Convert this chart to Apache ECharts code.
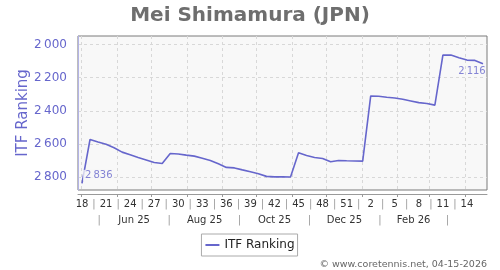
<!DOCTYPE html>
<html><head><meta charset="utf-8">
<script src="https://cdn.jsdelivr.net/npm/echarts@6/dist/echarts.min.js"></script>
<style>html,body{margin:0;padding:0;background:#fff}#c{width:500px;height:270px}</style>
</head><body><div id="c"></div>
<script>
// ---- data ----
const titleText = 'Mei Shimamura (JPN)';
const seriesName = 'ITF Ranking';
const creditText = '\u00a9 www.coretennis.net, 04-15-2026';
const weekNumbers = [18,19,20,21,22,23,24,25,26,27,28,29,30,31,32,33,34,35,36,37,38,39,40,41,42,43,44,45,46,47,48,49,50,51,52,1,2,3,4,5,6,7,8,9,10,11,12,13,14,15,16];
const ranks = [2836,2572,2587,2600,2622,2648,2664,2680,2695,2710,2716,2656,2659,2666,2672,2685,2698,2718,2740,2743,2755,2766,2778,2794,2797,2797,2798,2652,2668,2680,2686,2706,2698,2700,2701,2702,2310,2312,2318,2322,2330,2340,2350,2355,2365,2064,2064,2080,2094,2096,2116];
const weekTickLabels = ['18','21','24','27','30','33','36','39','42','45','48','51','2','5','8','11','14'];
const monthLabels = ['Jun 25','Aug 25','Oct 25','Dec 25','Feb 26'];
const yTickValues = [2000,2200,2400,2600,2800];

// ---- layout helpers ----
const FONT = '"DejaVu Sans", sans-serif';
const DAY = 86400000;
const origin = Date.UTC(2025, 3, 28); // Monday of week 18
const toWeeks = t => (t - origin) / DAY / 7;
const nWeeks = weekNumbers.length;
const fmt = v => String(v).replace(/\B(?=(\d{3})+(?!\d))/g, '\u2009');
const key = v => Number(v).toFixed(3);

// week row labels + separators
const weekLabelMap = {};
const weekLabelPos = [];
let prevIdx = -1;
weekTickLabels.forEach(lbl => {
  let idx = weekNumbers.findIndex((w, i) => i > prevIdx && String(w) === lbl);
  const pos = idx + 0.5;
  if (prevIdx >= 0) {
    const sp = (prevIdx + 0.5 + pos) / 2;
    weekLabelMap[key(sp)] = '|';
    weekLabelPos.push(sp);
  }
  weekLabelMap[key(pos)] = lbl;
  weekLabelPos.push(pos);
  prevIdx = idx;
});

// month boundaries, month row labels + separators
const monthStarts = [];
const monthMids = [];
for (let k = 0; k < 12; k++) {
  const s = Date.UTC(2025, 4 + k, 1), e = Date.UTC(2025, 5 + k, 1);
  monthStarts.push(toWeeks(s));
  monthMids.push(toWeeks((s + e) / 2));
}
const monthLabelMap = {};
const monthLabelPos = [];
for (let k = 0; k <= monthLabels.length * 2; k++) {
  const p = monthMids[k];
  monthLabelMap[key(p)] = (k % 2 === 1) ? monthLabels[(k - 1) / 2] : '|';
  monthLabelPos.push(p);
}

const points = ranks.map((r, i) => [i + 0.5, r]);
const first = points[0], last = points[points.length - 1];

const chart = echarts.init(document.getElementById('c'), null, {renderer: 'canvas'});
chart.setOption({
  backgroundColor: '#ffffff',
  animation: false,
  textStyle: {fontFamily: FONT},
  title: {
    text: titleText, left: 'center', top: 1,
    textStyle: {fontFamily: FONT, fontSize: 20, fontWeight: 'bold', color: '#6e6e6e'}
  },
  grid: {
    left: 78, top: 36, width: 409, height: 154, show: true,
    backgroundColor: '#f8f8f8', borderColor: '#7a7a7a', borderWidth: 1
  },
  legend: {
    data: [{name: seriesName, icon: 'rect'}], left: 'center', top: 234,
    borderColor: '#aaaaaa', borderWidth: 1, padding: [4, 3, 4, 4],
    itemWidth: 14, itemHeight: 2,
    textStyle: {fontFamily: FONT, fontSize: 12, color: '#222', lineHeight: 14}
  },
  xAxis: [
    {
      type: 'value', min: 0, max: nWeeks, position: 'bottom', offset: 4,
      axisLine: {show: true, lineStyle: {color: '#9a9a9a', width: 1}},
      axisTick: {show: true, customValues: monthStarts, length: 3, lineStyle: {color: '#9a9a9a'}},
      splitLine: {show: true, lineStyle: {type: [3, 3], color: '#d8d8d8', width: 1}},
      axisLabel: {
        customValues: weekLabelPos, margin: 4,
        formatter: v => weekLabelMap[key(v)] || '',
        color: v => (weekLabelMap[key(v)] === '|' ? '#9a9a9a' : '#333'),
        fontFamily: FONT, fontSize: 10, lineHeight: 12
      }
    },
    {
      type: 'value', min: 0, max: nWeeks, position: 'bottom', offset: 20,
      axisLine: {show: false}, axisTick: {show: false}, splitLine: {show: false},
      axisLabel: {
        customValues: monthLabelPos, margin: 4,
        formatter: v => monthLabelMap[key(v)] || '',
        color: v => (monthLabelMap[key(v)] === '|' ? '#9a9a9a' : '#333'),
        fontFamily: FONT, fontSize: 10, lineHeight: 12
      }
    }
  ],
  yAxis: {
    type: 'value', inverse: true, min: 1949, max: 2876, position: 'left', offset: 5,
    axisLine: {show: true, lineStyle: {color: '#b3b3e6', width: 1}},
    axisTick: {show: false, customValues: yTickValues},
    axisLabel: {customValues: yTickValues, formatter: v => fmt(v), color: '#6666cc', fontFamily: FONT, fontSize: 12, margin: 6},
    splitLine: {show: true, lineStyle: {type: [3, 3], color: '#d8d8d8', width: 1}},
    name: seriesName, nameLocation: 'middle', nameGap: 42, nameMoveOverlap: false,
    nameTextStyle: {color: '#6666cc', fontFamily: FONT, fontSize: 15}
  },
  series: [
    {
      type: 'line', name: seriesName, data: points, symbol: 'none', z: 3,
      lineStyle: {color: '#6666cc', width: 1.6}, itemStyle: {color: '#6666cc'}
    },
    {
      type: 'scatter', name: 'labels', silent: true, z: 5, symbolSize: 0.1,
      itemStyle: {color: 'rgba(0,0,0,0)'},
      data: [
        {value: first, label: {show: true, position: 'right', distance: 1, offset: [0, -8], padding: [1, 1, 0, 2], backgroundColor: '#f8f8f8'}},
        {value: last, label: {show: true, position: 'bottom', distance: 3, offset: [-11, 0]}}
      ],
      label: {formatter: p => fmt(p.value[1]), color: '#6666cc', fontFamily: FONT, fontSize: 10}
    }
  ],
  graphic: [{
    type: 'text', right: 13, top: 260,
    style: {text: creditText, fill: '#666', font: '9.5px "DejaVu Sans", sans-serif'}
  }]
});
</script>
</body></html>
